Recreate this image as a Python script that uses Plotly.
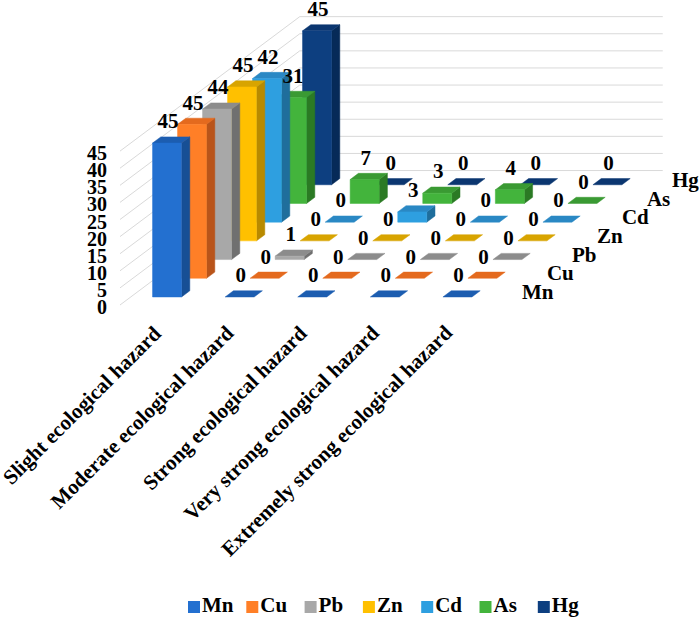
import plotly.graph_objects as go

# ---- data ----
categories = ['Slight ecological hazard', 'Moderate ecological hazard', 'Strong ecological hazard',
              'Very strong ecological hazard', 'Extremely strong ecological hazard']
series = ['Mn', 'Cu', 'Pb', 'Zn', 'Cd', 'As', 'Hg']

mn = [45, 0, 0, 0, 0]
cu = [45, 0, 0, 0, 0]
pb = [44, 1, 0, 0, 0]
zn = [45, 0, 0, 0, 0]
cd = [42, 0, 3, 0, 0]
as_ = [31, 7, 3, 4, 0]
hg = [45, 0, 0, 0, 0]
values = [mn, cu, pb, zn, cd, as_, hg]

value_ticks = [0, 5, 10, 15, 20, 25, 30, 35, 40, 45]

# front / top / side colours per series
front_cols = ['#2370D0', '#FF7F27', '#A8A8A8', '#FFC000', '#2E9FE0', '#43B43C', '#0D3F80']
top_cols = ['#1C5DB0', '#E46A1E', '#8C8C8C', '#D8A400', '#2A88C4', '#3A9A33', '#0B3670']
side_cols = ['#174F95', '#B9541A', '#707070', '#B88A00', '#1F6E9C', '#2B7A24', '#062A58']

FONT = 'Liberation Serif, Times New Roman, serif'

# ---- oblique projection (pixel space of the page) ----
X0, Y0 = 120, 305       # front-left corner of the floor
CW = 72.6               # category slot width
SX, SY = 25.0, 18.7     # one series step into depth
VS = 3.42               # px per value unit
FLOOR_D = 7.19          # floor depth in series steps
ROW_OFF = 0.43
BAR_DEPTH = 0.33
BAR_W = 29.0
INSET = (CW - BAR_W) / 2


def proj(c, s, v):
    return X0 + c * CW + s * SX, Y0 - s * SY - v * VS


def poly(points, xs, ys):
    for p in points:
        xs.append(p[0])
        ys.append(p[1])
    xs.append(points[0][0])
    ys.append(points[0][1])
    xs.append(None)
    ys.append(None)


fig = go.Figure()

# gridlines on the left and back walls
gx, gy = [], []
for v in value_ticks:
    for p in [proj(0, 0, v), proj(0, FLOOR_D, v), proj(len(categories), FLOOR_D, v)]:
        gx.append(p[0])
        gy.append(p[1])
    gx.append(None)
    gy.append(None)
fig.add_trace(go.Scatter(x=gx, y=gy, mode='lines', line=dict(color='#D9D9D9', width=1),
                         hoverinfo='skip'))

# bars, back row first
lab_x, lab_y, lab_t = [], [], []
for j in reversed(range(len(series))):
    fx, fy, tx, ty, sx_, sy_ = [], [], [], [], [], []
    s0 = ROW_OFF + j
    s1 = s0 + BAR_DEPTH
    for i, v in enumerate(values[j]):
        c0 = i + INSET / CW
        c1 = c0 + BAR_W / CW
        if v > 0:
            poly([proj(c0, s0, 0), proj(c1, s0, 0), proj(c1, s0, v), proj(c0, s0, v)], fx, fy)
            poly([proj(c1, s0, 0), proj(c1, s1, 0), proj(c1, s1, v), proj(c1, s0, v)], sx_, sy_)
        poly([proj(c0, s0, v), proj(c1, s0, v), proj(c1, s1, v), proj(c0, s1, v)], tx, ty)
        px, py = proj((c0 + c1) / 2, s0, v)
        lab_x.append(px + 1)
        lab_y.append(py - 20)
        lab_t.append(str(v))
    for xs, ys, col in [(sx_, sy_, side_cols[j]), (tx, ty, top_cols[j]), (fx, fy, front_cols[j])]:
        if xs:
            fig.add_trace(go.Scatter(x=xs, y=ys, mode='lines', fill='toself', fillcolor=col,
                                     line=dict(color=col, width=0.5), hoverinfo='skip'))

# value labels
fig.add_trace(go.Scatter(x=lab_x, y=lab_y, text=lab_t, mode='text', textposition='middle center',
                         textfont=dict(family=FONT, size=21, color='black', weight='bold'),
                         hoverinfo='skip', cliponaxis=False))

# value axis tick labels
ax_pts = [proj(0, 0, v) for v in value_ticks]
fig.add_trace(go.Scatter(x=[p[0] - 13 for p in ax_pts], y=[p[1] + 4 for p in ax_pts],
                         text=[str(v) for v in value_ticks], mode='text', textposition='middle left',
                         textfont=dict(family=FONT, size=20, color='black', weight='bold'),
                         hoverinfo='skip'))

# series axis labels
ser_pts = [proj(len(categories), ROW_OFF + j + BAR_DEPTH / 2, 0) for j in range(len(series))]
fig.add_trace(go.Scatter(x=[p[0] + 24 for p in ser_pts], y=[p[1] for p in ser_pts],
                         text=series, mode='text', textposition='middle right',
                         textfont=dict(family=FONT, size=21, color='black', weight='bold'),
                         hoverinfo='skip'))

# category labels (rotated)
for i, cat in enumerate(categories):
    px, py = proj(i + 0.5, 0, 0)
    fig.add_annotation(x=px + 13, y=py + 13, xref='x', yref='y', text=cat, showarrow=False,
                       textangle=-45, xanchor='right', yanchor='top',
                       font=dict(family=FONT, size=21, color='black', weight='bold'))

# legend row
LEG_X, LEG_Y, LEG_STEP = 194, 607, 58.3
leg_x = [LEG_X + k * LEG_STEP for k in range(len(series))]
fig.add_trace(go.Scatter(x=leg_x, y=[LEG_Y] * len(series), mode='markers',
                         marker=dict(symbol='square', size=12, color=front_cols),
                         hoverinfo='skip'))
fig.add_trace(go.Scatter(x=[x + 8 for x in leg_x], y=[LEG_Y] * len(series), text=series,
                         mode='text', textposition='middle right',
                         textfont=dict(family=FONT, size=21, color='black', weight='bold'),
                         hoverinfo='skip'))

fig.update_layout(
    width=699, height=619,
    margin=dict(l=0, r=0, t=0, b=0),
    paper_bgcolor='white', plot_bgcolor='white',
    showlegend=False,
    xaxis=dict(range=[0, 699], visible=False, fixedrange=True),
    yaxis=dict(range=[619, 0], visible=False, fixedrange=True),
)

# drop the default 8px body margin so the figure sits at the page corner
fig.write_html("out.html", config={'displayModeBar': False},
               post_script="document.body.style.margin = '0';")
